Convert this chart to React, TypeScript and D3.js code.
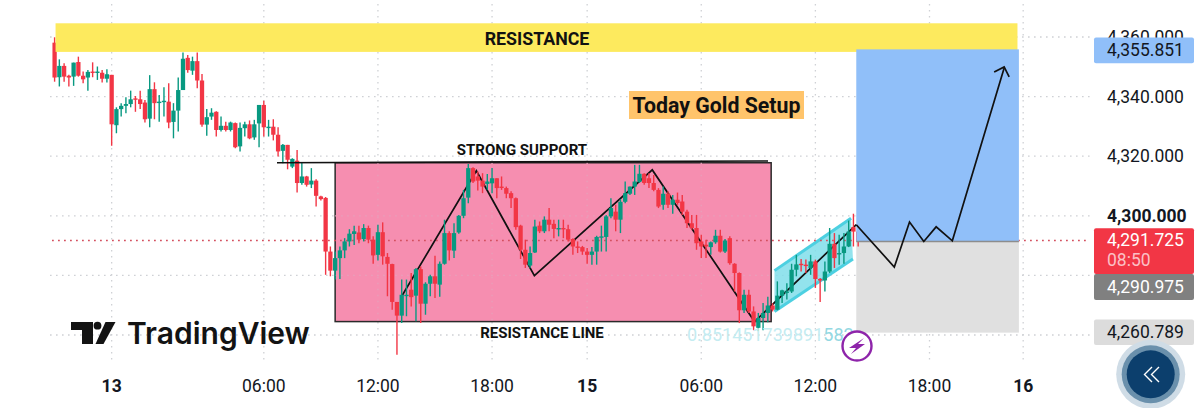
import React, { useEffect, useRef } from 'react';
import * as d3 from 'd3';

// 15 minute candles, prices
const opens = [
  4358.1, 4346.5, 4350.3, 4347.0, 4346.7, 4351.6, 4347.0, 4346.4, 4348.4, 4348.2,
  4348.0, 4346.0, 4347.3, 4330.4, 4335.8, 4336.9, 4337.5, 4339.4, 4339.1, 4338.0,
  4332.6, 4342.5, 4338.1, 4338.2, 4338.3, 4331.5, 4335.3, 4342.2, 4353.0, 4348.7,
  4351.9, 4345.4, 4330.6, 4333.3, 4334.9, 4328.8, 4330.2, 4328.8, 4331.1, 4323.3,
  4329.4, 4330.7, 4326.3, 4331.0, 4337.2, 4329.7, 4329.9, 4327.2, 4321.8, 4323.8,
  4316.5, 4318.5, 4311.0, 4313.2, 4310.5, 4311.8, 4306.5, 4306.0, 4288.0, 4281.6,
  4285.8, 4288.4, 4291.4, 4293.9, 4294.4, 4292.2, 4295.9, 4292.0, 4286.9, 4294.5,
  4286.2, 4283.8, 4271.1, 4266.5, 4273.3, 4275.2, 4273.2, 4282.1, 4270.5, 4277.2,
  4279.7, 4276.9, 4283.9, 4294.2, 4288.3, 4294.4, 4300.0, 4306.1, 4316.0, 4313.2,
  4311.8, 4310.7, 4310.9, 4312.6, 4309.8, 4309.3, 4307.6, 4305.9, 4296.7, 4288.6,
  4283.3, 4287.7, 4296.7, 4294.8, 4298.7, 4297.3, 4295.6, 4295.9, 4295.5, 4292.2,
  4289.7, 4289.5, 4288.0, 4286.9, 4288.0, 4292.7, 4292.9, 4299.8, 4301.4, 4298.7,
  4304.7, 4307.4, 4309.8, 4311.4, 4314.1, 4312.6, 4311.0, 4308.7, 4303.7, 4307.4,
  4303.7, 4305.4, 4304.8, 4301.4, 4297.5, 4295.9, 4291.4, 4290.3, 4289.5, 4291.1,
  4293.3, 4288.0, 4292.5, 4283.9, 4280.8, 4268.3, 4273.5, 4267.9, 4262.4, 4265.7,
  4267.4, 4269.9, 4268.5, 4273.2, 4274.4, 4274.6, 4281.9, 4283.9, 4283.6, 4282.5,
  4284.7, 4278.8, 4278.3, 4281.3, 4290.6, 4287.3, 4287.5, 4289.7, 4296.2, 4294.7,
];
const closes = [
  4346.4, 4350.3, 4346.7, 4346.4, 4351.4, 4347.0, 4345.8, 4348.3, 4348.2, 4348.4,
  4346.0, 4347.5, 4330.7, 4335.8, 4336.9, 4337.5, 4339.1, 4339.1, 4337.5, 4332.4,
  4342.5, 4337.8, 4338.3, 4338.6, 4331.3, 4335.3, 4342.2, 4352.7, 4348.9, 4351.9,
  4345.4, 4330.6, 4333.1, 4334.6, 4328.8, 4330.2, 4328.8, 4331.3, 4323.0, 4329.5,
  4330.7, 4326.0, 4330.7, 4337.2, 4329.7, 4329.9, 4327.2, 4321.6, 4323.8, 4318.8,
  4319.1, 4311.0, 4313.2, 4310.4, 4311.8, 4306.7, 4305.6, 4288.0, 4281.6, 4285.8,
  4288.4, 4291.4, 4294.0, 4294.8, 4292.0, 4295.9, 4292.0, 4286.7, 4294.5, 4286.4,
  4283.9, 4271.1, 4266.5, 4273.5, 4273.5, 4272.7, 4282.1, 4270.5, 4277.2, 4279.7,
  4277.2, 4283.9, 4294.2, 4288.4, 4294.2, 4300.0, 4305.9, 4316.0, 4311.5, 4311.8,
  4309.8, 4311.5, 4312.6, 4309.3, 4309.5, 4307.4, 4305.9, 4296.2, 4288.6, 4283.6,
  4287.5, 4296.4, 4294.8, 4298.7, 4297.0, 4295.6, 4295.9, 4295.5, 4292.0, 4289.7,
  4289.5, 4288.0, 4286.9, 4288.0, 4292.9, 4293.1, 4299.8, 4302.6, 4298.7, 4304.7,
  4307.6, 4309.8, 4311.5, 4314.1, 4311.0, 4311.0, 4308.7, 4303.1, 4307.4, 4303.7,
  4305.4, 4304.3, 4301.4, 4297.5, 4295.9, 4290.8, 4289.7, 4289.7, 4291.1, 4293.3,
  4288.0, 4291.7, 4284.1, 4280.8, 4268.3, 4273.5, 4267.9, 4262.9, 4265.7, 4267.4,
  4269.9, 4268.5, 4273.2, 4275.0, 4274.6, 4281.9, 4283.7, 4283.6, 4283.4, 4284.7,
  4278.8, 4278.3, 4281.3, 4290.6, 4285.8, 4287.5, 4289.7, 4294.7, 4294.7, 4291.7,
];
const highs = [
  4359.9, 4352.5, 4351.2, 4347.3, 4351.4, 4353.4, 4348.4, 4348.9, 4351.5, 4350.1,
  4348.9, 4349.2, 4347.3, 4336.4, 4337.8, 4339.8, 4342.0, 4340.2, 4342.0, 4338.9,
  4347.2, 4344.8, 4340.5, 4343.1, 4344.5, 4337.8, 4346.4, 4354.8, 4354.0, 4353.4,
  4354.8, 4347.6, 4335.8, 4336.1, 4335.1, 4333.3, 4331.6, 4331.6, 4331.3, 4331.3,
  4331.6, 4332.0, 4332.2, 4337.2, 4338.6, 4332.2, 4332.4, 4329.7, 4324.1, 4323.8,
  4319.3, 4322.1, 4317.9, 4313.4, 4316.0, 4312.3, 4306.7, 4306.3, 4289.7, 4288.0,
  4289.7, 4292.5, 4295.5, 4296.7, 4296.7, 4297.2, 4296.7, 4293.1, 4297.0, 4297.8,
  4287.5, 4283.9, 4271.1, 4278.6, 4278.6, 4280.8, 4282.5, 4283.0, 4277.7, 4280.2,
  4286.6, 4284.7, 4298.7, 4294.8, 4297.5, 4300.3, 4308.7, 4317.4, 4316.3, 4314.9,
  4314.3, 4314.0, 4316.0, 4312.6, 4313.2, 4309.8, 4308.2, 4306.1, 4297.0, 4292.0,
  4289.7, 4298.7, 4298.1, 4299.8, 4302.6, 4298.7, 4298.7, 4298.7, 4297.0, 4292.5,
  4291.4, 4289.9, 4289.2, 4289.5, 4293.3, 4296.7, 4300.3, 4305.9, 4303.7, 4305.6,
  4311.5, 4309.8, 4317.1, 4317.1, 4314.3, 4314.3, 4313.7, 4309.3, 4309.8, 4308.2,
  4307.0, 4307.8, 4307.0, 4302.0, 4300.3, 4300.3, 4293.6, 4292.0, 4291.4, 4295.3,
  4295.3, 4292.2, 4293.1, 4284.1, 4281.0, 4275.2, 4275.2, 4269.6, 4267.4, 4270.7,
  4272.8, 4270.7, 4278.0, 4275.2, 4277.4, 4283.9, 4286.9, 4285.5, 4285.3, 4286.9,
  4285.3, 4279.1, 4284.7, 4295.9, 4294.2, 4293.6, 4294.2, 4298.4, 4300.7, 4295.9,
];
const lows = [
  4345.0, 4343.4, 4345.0, 4343.4, 4343.6, 4346.7, 4344.5, 4342.0, 4346.5, 4345.6,
  4344.7, 4344.7, 4323.5, 4327.7, 4333.3, 4334.4, 4336.4, 4334.9, 4335.8, 4331.3,
  4329.7, 4332.4, 4331.6, 4333.3, 4329.4, 4326.0, 4328.3, 4342.2, 4348.0, 4347.3,
  4342.8, 4329.9, 4326.9, 4332.2, 4326.6, 4328.3, 4328.3, 4328.3, 4322.7, 4321.6,
  4326.6, 4325.7, 4325.5, 4323.0, 4326.6, 4326.6, 4325.3, 4319.9, 4317.6, 4315.6,
  4316.0, 4307.8, 4310.4, 4309.8, 4309.3, 4303.1, 4305.1, 4280.2, 4279.7, 4278.6,
  4278.8, 4285.8, 4289.7, 4290.2, 4290.8, 4291.4, 4290.8, 4283.9, 4285.0, 4283.6,
  4273.0, 4268.5, 4253.4, 4264.0, 4266.3, 4269.6, 4264.6, 4264.0, 4266.8, 4273.0,
  4272.4, 4272.8, 4283.6, 4285.0, 4285.8, 4294.0, 4299.2, 4304.2, 4311.0, 4308.5,
  4307.6, 4308.7, 4307.6, 4305.9, 4308.7, 4305.9, 4302.6, 4295.3, 4285.5, 4282.5,
  4282.5, 4287.5, 4294.2, 4294.2, 4294.8, 4292.5, 4293.1, 4292.5, 4291.4, 4286.9,
  4287.5, 4286.9, 4283.9, 4283.6, 4283.6, 4288.0, 4288.0, 4299.2, 4294.8, 4294.2,
  4304.2, 4307.0, 4307.0, 4311.0, 4310.4, 4309.3, 4308.2, 4302.6, 4302.0, 4302.6,
  4300.7, 4303.7, 4300.3, 4295.9, 4295.3, 4288.6, 4285.8, 4285.8, 4286.9, 4290.6,
  4287.7, 4287.5, 4283.6, 4274.6, 4264.0, 4267.4, 4267.4, 4261.6, 4261.3, 4261.6,
  4264.3, 4267.9, 4268.3, 4270.7, 4271.9, 4274.1, 4279.7, 4281.3, 4280.8, 4280.2,
  4275.8, 4271.1, 4274.6, 4280.8, 4282.5, 4283.6, 4283.9, 4289.5, 4289.7, 4289.7,
];

const xTicks = [12, 44, 68, 92, 112, 136, 160, 184, 203.7];
const xLabels = ['13', '06:00', '12:00', '18:00', '15', '06:00', '12:00', '18:00', '16'];
const xBold = ['13', '15', '16'];
const yTicks = [4360, 4340, 4320, 4300, 4280, 4260];
const yLabelTicks = [4360, 4340, 4320, 4300];
const lastPrice = 4291.725;
const entryPrice = 4291.4;
const targetPrice = 4355.851;
const stopPrice = 4260.789;
const prePrice = 4290.975;

// drawings, [candle index, price]
const zigzagIdx = [73, 88.7, 100.9, 125.7, 147.2, 168.6, 176.6, 179.8, 182.8, 185.4, 188.8, 199.7];
const zigzagPrice = [4273, 4315.1, 4279.9, 4315.4, 4264.5, 4297, 4282.8, 4297.9, 4291.4, 4296.3, 4291.6, 4349.6];
const channelIdx = [151.4, 167.5, 167.9, 151.4];
const channelPrice = [4281.6, 4299.2, 4285.5, 4267.9];

const RED = '#f23645';
const GREEN = '#089981';
const FONT = 'Roboto, sans-serif';

const App = () => {
  const svgRef = useRef(null);

  useEffect(() => {
    const svg = d3.select(svgRef.current);
    svg.selectAll('*').remove();

    const x = d3.scaleLinear().domain([0, 204]).range([54.6, 1024.6]);
    const y = d3.scaleLinear().domain([4260, 4360]).range([335, 37]);
    const fmt = d3.format(',.3f');

    // Grid
    const grid = svg.append('g').attr('stroke', '#cfd1d5').attr('stroke-width', 1.3).attr('stroke-dasharray', '1.6 4.4');
    yTicks.forEach(t => {
      grid.append('line').attr('x1', 50).attr('x2', 1090).attr('y1', y(t)).attr('y2', y(t));
    });
    xTicks.forEach(t => {
      grid.append('line').attr('x1', x(t)).attr('x2', x(t)).attr('y1', 4).attr('y2', 364);
    });

    // Pink box
    svg.append('rect')
      .attr('x', x(59)).attr('width', x(150.7) - x(59))
      .attr('y', y(4317.8)).attr('height', y(4264.5) - y(4317.8))
      .attr('fill', '#f68eb0').attr('stroke', '#2a2a2a').attr('stroke-width', 1.5);

    // grid shows through the box
    const grid2 = svg.append('g').attr('stroke', '#e8a0ba').attr('stroke-width', 1.3).attr('stroke-dasharray', '1.6 4.4');
    yTicks.filter(t => y(t) > y(4317.8) && y(t) < y(4264.5)).forEach(t => {
      grid2.append('line').attr('x1', x(59)).attr('x2', x(150.7)).attr('y1', y(t)).attr('y2', y(t));
    });
    xTicks.filter(t => t > 59 && t < 150.7).forEach(t => {
      grid2.append('line').attr('x1', x(t)).attr('x2', x(t)).attr('y1', y(4317.8)).attr('y2', y(4264.5));
    });

    // Channel
    const channel = d3.line()(channelIdx.map((d, i) => [x(d), y(channelPrice[i])])) + 'Z';
    svg.append('path').attr('d', channel)
      .attr('fill', '#80deea').attr('fill-opacity', 0.85);
    [[0, 1], [3, 2]].forEach(([a, b]) => {
      svg.append('line')
        .attr('x1', x(channelIdx[a])).attr('y1', y(channelPrice[a]))
        .attr('x2', x(channelIdx[b])).attr('y2', y(channelPrice[b]))
        .attr('stroke', '#4dd0e1').attr('stroke-width', 3);
    });

    // Target and stop zones
    svg.append('rect')
      .attr('x', x(168.6)).attr('width', x(202.8) - x(168.6))
      .attr('y', y(entryPrice)).attr('height', y(stopPrice) - y(entryPrice))
      .attr('fill', '#e0e0e0');

    // Last price line
    svg.append('line')
      .attr('x1', 52).attr('x2', 1090)
      .attr('y1', y(lastPrice)).attr('y2', y(lastPrice))
      .attr('stroke', '#d4505f').attr('stroke-width', 1.4).attr('stroke-dasharray', '1.8 4.2');

    // Zigzag line
    const zigzag = d3.line()
      .x(d => x(d[0]))
      .y(d => y(d[1]));
    const pts = zigzagIdx.map((d, i) => [d, zigzagPrice[i]]);

    // Lines are under the candles on the left
    svg.append('path')
      .attr('d', zigzag(pts.slice(0, 6)))
      .attr('fill', 'none').attr('stroke', '#111').attr('stroke-width', 1.7);

    // Candles
    const candles = svg.append('g');
    opens.forEach((o, i) => {
      const c = closes[i];
      const col = c >= o ? GREEN : RED;
      candles.append('line')
        .attr('x1', x(i)).attr('x2', x(i))
        .attr('y1', y(highs[i])).attr('y2', y(lows[i]))
        .attr('stroke', col).attr('stroke-width', 1.4);
      candles.append('rect')
        .attr('x', x(i) - 2.15).attr('width', 4.3)
        .attr('y', y(Math.max(o, c)))
        .attr('height', Math.max(1.4, Math.abs(y(o) - y(c))))
        .attr('fill', col);
    });

    // Yellow band sits over the candle wicks
    svg.append('rect')
      .attr('x', x(0.2)).attr('width', x(202.5) - x(0.2))
      .attr('y', y(4364.6)).attr('height', y(4355) - y(4364.6))
      .attr('fill', '#fdea5e');
    svg.append('rect')
      .attr('x', x(168.6)).attr('width', x(202.8) - x(168.6))
      .attr('y', y(targetPrice)).attr('height', y(entryPrice) - y(targetPrice))
      .attr('fill', '#90bff9');
    svg.append('line')
      .attr('x1', x(168.6)).attr('x2', x(202.8))
      .attr('y1', y(entryPrice)).attr('y2', y(entryPrice))
      .attr('stroke', '#8d8d8d').attr('stroke-width', 1.5);

    svg.append('path')
      .attr('d', zigzag(pts.slice(5)))
      .attr('fill', 'none').attr('stroke', '#111').attr('stroke-width', 1.7);

    // Arrow head
    const tipX = x(199.7), tipY = y(4349.6);
    svg.append('path')
      .attr('d', `M${tipX - 10},${tipY + 4} L${tipX},${tipY - 1} L${tipX + 5},${tipY + 9}`)
      .attr('fill', 'none').attr('stroke', '#111').attr('stroke-width', 1.7);

    // Top line of the support box
    svg.append('line')
      .attr('x1', 277).attr('y1', y(4317.8))
      .attr('x2', 768).attr('y2', y(4318.4))
      .attr('stroke', '#111').attr('stroke-width', 1.6);

    // Labels on the chart
    const label = (txt, lx, ly, size, weight = 700, color = '#111') =>
      svg.append('text').attr('x', lx).attr('y', ly)
        .attr('text-anchor', 'middle').attr('dominant-baseline', 'central')
        .attr('font-family', FONT).attr('font-size', size).attr('font-weight', weight)
        .attr('fill', color).text(txt);

    label('RESISTANCE', 537, 38, 17.8);
    label('STRONG SUPPORT', 522, 149.5, 15);
    label('RESISTANCE LINE', 542, 333, 15);

    svg.append('rect').attr('x', 629).attr('y', 91).attr('width', 175).attr('height', 28).attr('fill', '#ffc46b');
    label('Today Gold Setup', 716.5, 105, 21.3);

    const ratio = svg.append('text').attr('x', 687).attr('y', 334)
      .attr('dominant-baseline', 'central')
      .attr('font-family', FONT).attr('font-size', 18);
    ratio.append('tspan').attr('fill', '#c4ecf1').text('0.851451739891');
    ratio.append('tspan').attr('fill', '#93d8e2').text('582');

    // Lightning badge
    svg.append('circle').attr('cx', 857).attr('cy', 346).attr('r', 14.5)
      .attr('fill', '#fff').attr('stroke', '#8e24aa').attr('stroke-width', 2.4);
    svg.append('path')
      .attr('d', 'M864,338 L849,348 L856,348 L851,354 L865,344 L858,344 Z')
      .attr('fill', '#8e24aa');

    // TradingView logo
    const logo = svg.append('g').attr('fill', '#131313');
    logo.append('path').attr('d', 'M71,322 H93 V344 H82 V330 H71 Z');
    logo.append('circle').attr('cx', 97.5).attr('cy', 325.7).attr('r', 3.9);
    logo.append('path').attr('d', 'M105.5,322 H115.5 L103.5,344 H95.5 Z');
    svg.append('text').attr('x', 127).attr('y', 344)
      .attr('font-family', 'Inter, sans-serif').attr('font-weight', 600).attr('font-size', 30)
      .attr('fill', '#131313').text('TradingView');

    // Time axis
    xTicks.forEach((t, i) => {
      const bold = xBold.includes(xLabels[i]);
      svg.append('text')
        .attr('x', x(t)).attr('y', 386)
        .attr('text-anchor', 'middle').attr('dominant-baseline', 'central')
        .attr('font-family', FONT).attr('font-size', 17.5)
        .attr('font-weight', bold ? 700 : 400).attr('fill', '#131722')
        .text(xLabels[i]);
    });

    // Price axis
    yLabelTicks.forEach(t => {
      svg.append('text')
        .attr('x', 1107).attr('y', y(t))
        .attr('dominant-baseline', 'central')
        .attr('font-family', FONT).attr('font-size', 17.5)
        .attr('font-weight', t === 4300 ? 700 : 400).attr('fill', '#131722')
        .text(fmt(t));
    });

    const tag = (top, h, fill, txt, color) => {
      svg.append('rect').attr('x', 1094).attr('y', top).attr('width', 100).attr('height', h).attr('rx', 2).attr('fill', fill);
      svg.append('text').attr('x', 1107).attr('y', top + h / 2)
        .attr('dominant-baseline', 'central')
        .attr('font-family', FONT).attr('font-size', 17.5).attr('fill', color)
        .text(fmt(txt));
    };
    tag(37.5, 25.8, '#90bff9', targetPrice, '#131722');
    svg.append('rect').attr('x', 1094).attr('y', 228.3).attr('width', 100).attr('height', 45.7).attr('rx', 2).attr('fill', RED);
    svg.append('text').attr('x', 1107).attr('y', 240)
      .attr('dominant-baseline', 'central')
      .attr('font-family', FONT).attr('font-size', 17.5).attr('fill', '#fff').text(fmt(lastPrice));
    svg.append('text').attr('x', 1107).attr('y', 260)
      .attr('dominant-baseline', 'central')
      .attr('font-family', FONT).attr('font-size', 17.5).attr('fill', '#fbc0c5').text('08:50');
    tag(274, 26, '#808080', prePrice, '#fff');
    tag(319.5, 25.5, '#dcdcdc', stopPrice, '#131722');

    // Scroll button
    svg.append('circle').attr('cx', 1150.7).attr('cy', 374.3).attr('r', 34.5).attr('fill', '#cfdce6');
    svg.append('circle').attr('cx', 1150.7).attr('cy', 374.3).attr('r', 29).attr('fill', '#6a90ac');
    svg.append('circle').attr('cx', 1150.7).attr('cy', 374.3).attr('r', 24).attr('fill', '#0c3f6d');
    ['M1152,367 L1144.5,374.5 L1152,382', 'M1159,367 L1151.5,374.5 L1159,382'].forEach(d => {
      svg.append('path').attr('d', d).attr('fill', 'none').attr('stroke', '#fff').attr('stroke-width', 1.4);
    });
  }, []);

  return <svg ref={svgRef} width={1200} height={408} style={{ position: 'fixed', left: 0, top: 0, background: '#fff' }}></svg>;
};

export default App;
